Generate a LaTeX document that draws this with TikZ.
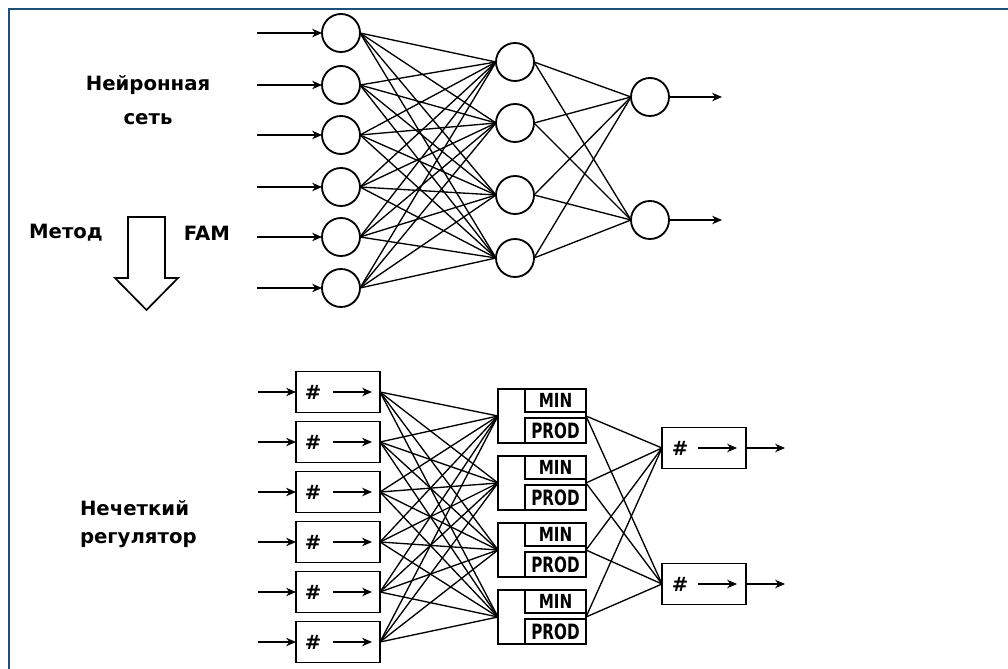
\documentclass[tikz,border=0pt]{standalone}
\usepackage{fontspec}
\setmainfont{DejaVu Sans}
\usepackage{graphicx}
\usepackage{xcolor}
\definecolor{frameBlue}{HTML}{1F4E79}
\usepackage{tikz}
\usetikzlibrary{arrows.meta, positioning}

\begin{document}
\begin{tikzpicture}[
    x=0.025cm, y=-0.025cm,
    every node/.style={inner sep=0pt, outer sep=0pt},
    neuron/.style={circle, draw, line width=1.3pt, minimum size=0.95cm},
    link/.style={line width=0.95pt},
    feed/.style={line width=1.1pt, -{Stealth[length=7pt, width=6pt]}},
    fuzzyBox/.style={draw, line width=1.4pt, minimum width=2.1cm, minimum height=1.025cm},
    ruleBox/.style={draw, line width=1.4pt, minimum width=2.2cm, minimum height=1.35cm},
    opBox/.style={draw, line width=1.4pt, minimum width=1.525cm, font=\bfseries\fontsize{12}{12}\selectfont},
    hashSign/.style={font=\bfseries\fontsize{14}{14}\selectfont},
    sideText/.style={font=\bfseries\fontsize{14}{24}\selectfont, align=center}
]
    \useasboundingbox (0,0) rectangle (1008,669);

    % Frame (top and left edge only)
    \draw[frameBlue, line width=1.5pt] (9,669) -- (9,9) -- (1008,9);

    % Neural network
    \foreach \y [count=\i] in {33,85,135,187,237,288} {
        \coordinate (x\i) at (257,\y);
        \node[neuron] (n\i) at (341,\y) {};
        \draw[feed] (x\i) -- (n\i);
    }
    \foreach \y [count=\j] in {62,123,195,258}
        \node[neuron] (h\j) at (515,\y) {};
    \foreach \y [count=\k] in {97,220} {
        \node[neuron] (o\k) at (650,\y) {};
        \coordinate (y\k) at (722,\y);
        \draw[feed] (o\k) -- (y\k);
    }
    \foreach \i in {1,...,6}
        \foreach \j in {1,...,4}
            \draw[link] (n\i.east) -- (h\j.west);
    \foreach \j in {1,...,4}
        \foreach \k in {1,2}
            \draw[link] (h\j.east) -- (o\k.west);

    % Labels on the left
    \node[sideText] (netLbl) at (148,100) {Нейронная\\сеть};
    \node[sideText] (methodLbl) at (66,233) {Метод};
    \node[sideText] (famLbl) at (207,233) {FAM};
    \node[sideText, align=left, font=\bfseries\fontsize{14}{20}\selectfont, anchor=west] (fuzzyLbl) at (80,524) {Нечеткий\\регулятор};

    % Hollow arrow
    \draw[line width=1.2pt] (128,217) -- (165,217) -- (165,278) -- (178,278)
        -- (146.5,310) -- (115,278) -- (128,278) -- cycle;

    % Fuzzy regulator: input fuzzifiers
    \foreach \y [count=\i] in {392,442,...,642} {
        \coordinate (u\i) at (258,\y);
        \node[fuzzyBox] (f\i) at (338,\y) {};
        \node[hashSign] (fh\i) at (313,\y) {\#};
        \coordinate (fa\i) at (333,\y);
        \coordinate (fb\i) at (372,\y);
        \draw[feed] (u\i) -- (f\i);
        \draw[feed] (fa\i) -- (fb\i);
    }

    % Rule blocks
    \foreach \y [count=\j] in {416,483,550,617} {
        \node[ruleBox] (r\j) at (542,\y) {};
        \node[opBox, minimum height=0.575cm, anchor=north east] (rmin\j) at (r\j.north east) {\scalebox{0.9}[1.15]{MIN}};
        \node[opBox, minimum height=0.625cm, anchor=south east] (rprod\j) at (r\j.south east) {\scalebox{0.9}[1.25]{PROD}};
    }

    % Output defuzzifiers
    \foreach \y [count=\k] in {448,584} {
        \node[fuzzyBox] (d\k) at (704,\y) {};
        \node[hashSign] (dh\k) at (680,\y) {\#};
        \coordinate (da\k) at (698,\y);
        \coordinate (db\k) at (737,\y);
        \coordinate (v\k) at (785,\y);
        \draw[feed] (da\k) -- (db\k);
        \draw[feed] (d\k) -- (v\k);
    }

    % Connections
    \foreach \i in {1,...,6}
        \foreach \j in {1,...,4}
            \draw[link] (f\i.east) -- (r\j.west);
    \foreach \j in {1,...,4}
        \foreach \k in {1,2}
            \draw[link] (r\j.east) -- (d\k.west);
\end{tikzpicture}
\end{document}
